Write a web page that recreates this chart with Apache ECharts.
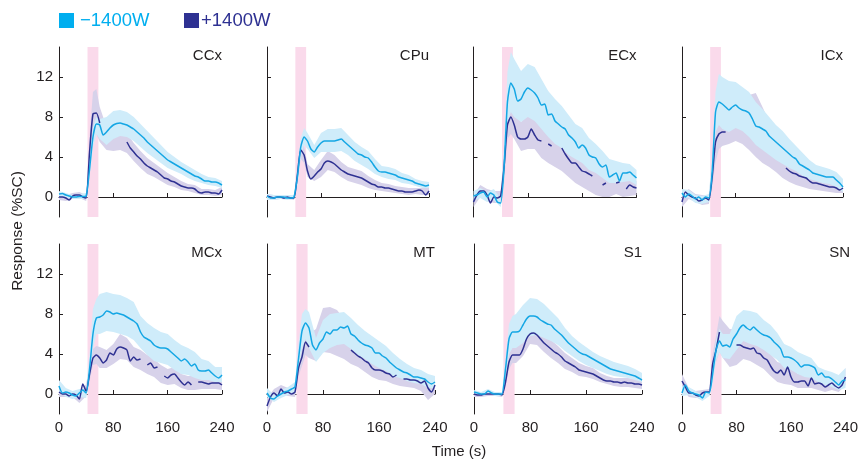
<!DOCTYPE html>
<html>
<head>
<meta charset="utf-8">
<script src="https://cdn.jsdelivr.net/npm/echarts@6/dist/echarts.min.js"></script>
<style>
html,body{margin:0;padding:0;background:#fff;}
#chart{width:861px;height:465px;}
</style>
</head>
<body>
<div id="chart"></div>
<script>
// ---------------- DATA ----------------
const panelNames = ['CCx','CPu','ECx','ICx','MCx','MT','S1','SN'];
const seriesNames = ['\u22121400W', '+1400W'];
const xTicks = [0, 80, 160, 240];
const yTicks = [0, 4, 8, 12];
const stimulus = [42, 58];
const lineT = [0,5,10,15,20,25,30,35,40,45,50,55,60,65,70,75,80,85,90,95,100,105,110,115,120,125,130,135,140,145,150,155,160,165,170,175,180,185,190,195,200,205,210,215,220,225,230,235,240];
const bandT = [0,10,20,30,40,45,50,55,60,70,80,90,100,110,120,130,140,150,160,170,180,190,200,210,220,230,240];

// CCx
const ccxLight = [0.3,0.35,0.2,0.1,0.0,0.0,0.05,0.05,0.1, 2.8,6.0,7.3,7.2,6.2,6.5,6.9,7.2,7.35,7.4, 7.3,7.2,7.0,6.8,6.5,6.2,5.9,5.5,5.2,4.9, 4.6,4.3,4.0,3.7,3.5,3.3,3.1,2.9,2.7,2.5, 2.3,2.1,2.0,1.8,1.6,1.6,1.5,1.5,1.4,1.2];
const ccxLightLo = [0.0,-0.1,-0.2,-0.2,-0.2, 2.0,5.0,6.3,5.8, 5.2,5.8,6.1,6.0,5.6,5.0,4.4,3.9,3.4,2.9,2.6,2.3,1.9,1.6,1.4,1.2,1.1,0.9];
const ccxLightHi = [0.6,0.4,0.2,0.3,0.4, 4.0,7.0,8.0,7.8, 8.0,8.6,8.7,8.5,8.0,7.3,6.6,5.9,5.2,4.5,4.0,3.5,3.1,2.7,2.3,2.0,1.9,1.6];
const ccxDark = [0.0,0.0,-0.1,-0.3,0.1,0.2,0.2,0.0,-0.1, 4.5,8.3,8.4,7.4,null,null,null,null,null,null, null,5.5,4.9,4.5,4.1,3.8,3.4,3.1,2.9,2.7, 2.5,2.2,1.9,1.8,1.6,1.5,1.3,1.1,1.0,0.9, 0.9,0.8,0.5,0.4,0.5,0.5,0.4,0.4,0.3,0.7];
const ccxDarkLo = [-0.3,-0.4,-0.2,-0.1,-0.4, 3.0,6.3,6.3,5.5, 4.7,4.6,4.7,4.4,3.6,2.9,2.3,2.0,1.6,1.2,1.0,0.7,0.6,0.4,0.2,0.2,0.1,0.2];
const ccxDarkHi = [0.3,0.2,0.4,0.5,0.2, 6.0,10.5,10.8,9.0, 7.0,7.2,7.2,6.4,5.4,4.6,3.9,3.4,2.9,2.4,2.0,1.6,1.3,1.2,0.8,0.8,0.7,1.0];

// CPu
const cpuLight = [0.1,-0.1,-0.1,0.0,0.0,0.0,-0.1,-0.1,0.0, 2.0,5.0,6.0,5.6,4.8,4.5,5.0,5.4,5.6,5.6, 5.6,5.6,5.7,5.8,5.5,5.2,4.9,4.6,4.3,4.2, 4.0,3.9,3.5,3.0,2.6,2.5,2.5,2.4,2.3,2.2, 2.0,1.9,1.8,1.7,1.6,1.4,1.3,1.2,1.1,1.2];
const cpuLightLo = [-0.3,-0.3,-0.2,-0.3,-0.2, 1.2,4.0,5.2,4.8, 3.9,4.5,4.5,4.5,4.6,4.2,3.6,3.2,2.8,2.3,2.0,1.8,1.7,1.4,1.3,1.1,0.9,0.9];
const cpuLightHi = [0.3,0.2,0.2,0.2,0.2, 3.0,5.9,6.9,6.4, 5.2,6.4,6.8,6.8,6.9,6.2,5.5,5.0,4.6,3.8,3.1,3.0,2.8,2.4,2.2,1.8,1.6,1.5];
const cpuDark = [0.1,0.0,-0.1,0.0,0.0,-0.1,0.0,-0.1,-0.1, 2.2,4.7,4.2,2.6,1.8,2.1,2.5,2.8,3.4,3.6, 3.5,3.3,3.0,2.7,2.5,2.3,2.2,2.1,2.0,1.9, 1.7,1.5,1.3,1.2,1.0,1.0,0.9,0.9,0.8,0.7, 0.6,0.6,0.5,0.5,0.5,0.6,0.7,0.6,0.2,0.6];
const cpuDarkLo = [-0.2,-0.3,-0.2,-0.2,-0.3, 1.5,3.8,3.4,2.0, 1.6,2.0,2.7,2.5,2.0,1.6,1.4,1.2,0.9,0.7,0.6,0.5,0.4,0.3,0.2,0.3,0.2,0.2];
const cpuDarkHi = [0.3,0.2,0.2,0.2,0.1, 3.0,5.5,5.0,3.3, 2.7,3.7,4.6,4.2,3.5,3.0,2.8,2.6,2.1,1.7,1.4,1.3,1.1,1.0,0.9,0.9,0.9,0.9];

// ECx
const ecxLight = [0.1,0.2,0.4,0.5,0.0,0.4,0.2,-0.5,-0.6, 3.0,9.5,11.4,10.8,9.6,9.8,10.5,10.9,10.7,10.4, 9.9,9.2,9.3,8.2,8.3,7.6,7.3,7.0,6.8,6.2, 5.9,5.5,4.9,5.2,4.9,4.2,4.0,3.9,3.3,3.0, 3.2,2.0,2.2,2.4,1.6,2.4,2.4,2.5,2.2,1.9];
const ecxLightLo = [-0.4,-0.1,-0.5,-0.3,-1.0, 1.5,7.5,8.5,8.0, 7.5,8.0,7.6,6.8,6.0,5.3,4.9,4.2,3.8,3.4,2.7,2.4,1.9,1.4,1.4,1.5,1.6,1.2];
const ecxLightHi = [0.6,0.9,0.5,0.8,-0.2, 5.0,12.5,14.5,13.8, 12.6,13.3,13.0,11.8,10.6,9.8,9.1,8.2,7.3,6.9,5.9,5.3,4.6,3.8,3.6,3.4,3.3,2.7];
const ecxDark = [-0.5,0.2,0.6,0.6,0.2,-0.6,0.0,-0.1,0.1, 3.0,7.2,8.0,7.2,6.0,5.8,5.8,6.0,6.8,6.2, 5.7,5.6,null,5.3,5.1,null,null,4.9,4.3,3.8, 3.4,3.4,3.0,2.6,2.5,2.3,2.1,null,null,1.2, 1.4,null,null,1.4,1.5,null,0.8,1.2,1.0,0.9];
const ecxDarkLo = [-1.0,0.0,-0.4,-0.6,-0.6, 1.5,5.8,6.3,5.8, 4.6,4.8,4.8,3.9,3.4,3.0,2.6,2.0,1.4,1.0,0.6,0.2,0.0,0.0,0.3,0.0,0.1,0.2];
const ecxDarkHi = [0.1,1.2,0.8,0.6,0.6, 4.5,8.5,9.5,8.8, 7.5,8.3,7.9,7.2,6.9,6.4,6.0,5.2,4.6,4.0,3.5,3.1,2.6,2.5,2.4,2.0,2.0,1.6];

// ICx
const icxLight = [0.4,0.0,0.3,0.1,-0.2,0.0,-0.3,0.0,-0.1, 2.5,8.5,9.5,9.3,9.0,8.7,9.0,9.2,8.9,8.7, 8.6,8.4,7.8,7.1,7.0,6.8,6.6,6.1,5.8,5.5, 5.2,4.9,4.6,4.3,4.0,3.8,3.3,3.1,2.9,2.7, 2.4,2.3,2.2,2.1,2.0,2.0,2.0,1.7,1.4,1.0];
const icxLightLo = [0.0,-0.1,-0.6,-0.7,-0.5, 1.0,6.5,7.2,6.8, 6.5,6.9,6.6,6.0,5.2,4.7,4.2,3.7,3.3,2.9,2.6,2.1,1.8,1.6,1.4,1.3,1.0,0.5];
const icxLightHi = [0.8,0.7,0.2,0.1,0.3, 4.0,10.5,12.3,12.0, 11.6,11.5,11.0,10.5,9.5,8.8,8.0,7.2,6.6,5.8,5.1,4.4,3.7,3.2,3.0,2.8,2.5,1.8];
const icxDark = [-0.5,0.5,0.2,0.0,-0.1,-0.4,-0.3,-0.1,-0.3, 2.0,5.5,6.3,6.5,6.5,null,null,null,null,null, null,null,null,null,null,null,null,null,null,null, null,null,2.9,2.6,2.4,2.3,2.1,2.0,1.9,1.6, 1.4,1.4,1.3,1.2,1.1,1.0,1.0,0.9,0.7,0.9];
const icxDarkLo = [-1.0,-0.2,-0.5,-0.8,-0.7, 1.0,3.5,4.8,5.1, 5.3,5.6,5.3,4.7,4.0,3.4,3.0,2.5,1.9,1.5,1.2,1.0,0.8,0.7,0.6,0.5,0.4,0.4];
const icxDarkHi = [0.2,0.8,0.3,0.2,0.1, 3.5,7.5,8.5,8.5, 8.8,9.4,9.8,10.2,10.4,9.0,7.5,6.3,5.0,4.0,3.4,3.0,2.5,2.1,1.9,1.6,1.4,1.4];

// MCx
const mcxLight = [0.8,0.1,0.2,0.1,-0.1,-0.2,0.1,0.4,0.1, 2.5,6.0,7.6,7.7,7.9,8.3,8.2,8.0,8.1,8.0, 7.9,7.7,7.5,7.3,7.0,6.2,5.7,5.5,5.3,4.9, 4.7,4.6,4.6,4.5,4.2,3.9,3.6,3.3,3.5,3.2, 2.8,3.0,2.4,2.3,2.3,2.4,2.1,1.8,1.6,1.9];
const mcxLightLo = [0.2,-0.3,-0.5,-0.3,-0.4, 1.5,4.5,6.0,6.0, 6.3,6.2,6.0,5.8,5.4,4.6,3.9,3.3,3.1,2.9,2.4,2.0,1.9,1.6,1.4,1.4,1.2,1.2];
const mcxLightHi = [1.4,0.6,0.3,0.5,0.5, 4.0,8.5,9.5,10.0, 10.2,10.0,9.9,9.6,9.2,7.8,7.1,6.6,6.2,6.0,5.4,4.9,4.6,4.2,3.5,3.3,2.7,2.7];
const mcxDark = [0.2,0.0,0.0,-0.2,0.0,-0.1,-0.5,1.0,0.3, 2.0,3.6,3.9,3.6,3.1,3.4,4.1,3.9,4.5,4.7, 4.6,4.4,3.3,3.7,3.4,3.5,null,2.9,3.1,2.6, 2.7,null,1.8,1.6,1.9,2.0,1.6,1.2,0.9,1.2, 0.9,null,1.2,1.2,1.1,1.0,1.1,1.1,1.1,0.9];
const mcxDarkLo = [-0.3,-0.3,-0.3,-0.9,-0.2, 1.3,2.9,3.0,2.6, 2.6,3.0,3.5,3.4,2.7,2.4,2.0,1.7,1.1,0.9,1.0,0.6,0.4,0.4,0.5,0.5,0.5,0.4];
const mcxDarkHi = [0.6,0.3,0.3,-0.1,1.0, 2.8,4.5,4.8,4.7, 4.4,5.0,6.0,5.6,4.7,4.4,3.9,3.5,2.9,2.5,2.7,2.0,1.8,1.8,1.7,1.6,1.6,1.5];

// MT
const mtLight = [0.1,-0.4,-0.5,-0.2,0.0,0.2,0.3,0.5,0.7, 3.5,6.3,7.1,6.6,4.9,4.4,5.1,5.5,6.2,6.0, 6.4,6.4,6.7,6.6,6.8,6.0,5.8,5.4,5.1,4.9, 4.8,4.6,4.1,4.1,3.8,3.6,3.2,2.9,2.6,2.4, 2.2,2.1,1.9,1.7,1.7,1.6,1.5,1.2,1.0,1.2];
const mtLightLo = [-0.3,-0.8,-0.4,-0.1,0.2, 2.5,4.5,5.5,4.6, 3.2,4.1,4.6,4.9,5.0,4.5,3.9,3.5,3.0,2.6,2.3,1.8,1.6,1.3,1.1,1.0,0.6,0.6];
const mtLightHi = [0.6,-0.1,0.4,0.7,1.2, 5.0,8.0,8.5,8.2, 5.6,7.4,8.0,8.1,8.2,7.6,6.9,6.3,5.8,5.3,4.8,4.1,3.5,3.0,2.6,2.4,2.0,1.8];
const mtDark = [-1.2,-0.3,0.1,-0.2,0.5,0.1,0.2,0.0,0.2, 2.6,3.7,5.2,4.7,null,null,null,null,null,null, null,null,null,null,null,4.4,4.1,3.8,3.6,3.3, 3.1,2.6,2.4,2.4,2.3,2.1,2.0,1.7,1.9,null, 1.5,1.5,1.4,1.4,1.3,1.1,1.3,0.6,0.2,0.9];
const mtDarkLo = [-1.8,-0.4,0.0,-0.2,-0.3, 1.8,2.8,3.9,3.6, 3.3,4.2,4.1,3.8,3.5,3.0,2.7,2.2,1.7,1.4,1.3,1.0,0.8,0.7,0.6,0.3,-0.6,0.0];
const mtDarkHi = [-0.4,0.5,0.9,0.6,0.6, 3.3,4.8,6.3,6.0, 6.5,8.6,8.7,8.4,7.5,6.0,5.0,4.3,3.6,3.2,2.9,2.5,2.3,2.2,2.1,1.8,1.6,1.8];

// S1
const s1Light = [0.2,0.1,0.0,0.0,0.3,0.1,0.0,0.0,0.0, 2.5,5.5,6.2,6.2,6.3,6.9,7.5,7.8,7.8,7.7, 7.4,7.2,7.0,6.9,6.5,6.2,5.9,5.5,5.1,4.8, 4.5,4.2,4.0,3.9,3.7,3.5,3.3,3.1,2.9,2.7, 2.5,2.4,2.3,2.2,2.1,2.0,1.9,1.8,1.6,1.4];
const s1LightLo = [0.0,-0.2,0.1,-0.2,-0.2, 1.5,4.0,4.6,4.6, 5.1,5.8,5.9,5.6,5.3,4.9,4.3,3.8,3.3,2.9,2.6,2.3,2.0,1.8,1.7,1.6,1.4,1.2];
const s1LightHi = [0.4,0.2,0.5,0.2,0.2, 3.5,7.0,7.8,8.0, 8.9,9.6,9.5,9.0,8.3,7.6,6.6,5.8,5.2,4.7,4.2,3.8,3.5,3.2,3.0,2.8,2.5,2.1];
const s1Dark = [0.0,-0.1,-0.1,0.0,0.0,0.0,0.0,0.0,-0.1, 1.2,3.2,3.9,3.9,3.9,4.5,5.5,6.0,6.1,5.9, 5.5,5.1,4.8,4.5,4.2,4.0,3.7,3.3,3.1,2.9, 2.7,2.4,2.3,2.2,2.1,2.0,1.8,1.6,1.4,1.3, 1.3,1.2,1.2,1.1,1.2,1.1,1.1,1.0,1.0,0.9];
const s1DarkLo = [-0.3,-0.3,-0.2,-0.2,-0.3, 0.7,2.5,3.1,3.1, 3.8,5.0,4.9,4.2,3.6,3.1,2.5,2.2,1.8,1.7,1.5,1.2,1.0,0.8,0.7,0.7,0.6,0.5];
const s1DarkHi = [0.2,0.1,0.2,0.2,0.1, 1.8,4.0,4.7,4.8, 5.4,7.1,7.0,6.0,5.4,4.8,4.1,3.6,3.1,2.8,2.6,2.1,1.8,1.6,1.6,1.6,1.5,1.3];

// SN
const snLight = [0.1,0.9,0.3,0.1,0.0,-0.1,-0.4,0.2,0.1, 2.0,4.4,5.3,4.8,4.9,4.7,5.5,6.0,6.6,6.9, 6.6,6.4,6.7,6.4,6.1,5.9,5.8,5.6,5.2,4.9, 4.5,3.7,3.7,3.6,3.4,3.1,2.7,2.9,2.9,2.8, 2.6,1.9,2.1,1.7,1.7,1.5,1.2,0.9,1.3,1.4];
const snLightLo = [-0.2,-0.1,-0.3,-0.7,-0.2, 1.0,3.4,4.2,3.6, 3.5,4.4,5.3,5.0,4.8,4.4,3.9,3.4,2.6,2.4,2.0,1.7,1.6,1.2,0.9,0.7,0.4,0.6];
const snLightHi = [0.8,0.7,0.3,-0.1,0.4, 3.0,5.4,6.5,6.0, 6.0,7.8,8.4,8.3,8.1,7.4,6.9,6.1,5.0,4.7,4.2,3.9,3.6,2.7,2.4,2.2,1.9,2.6];
const snDark = [1.3,0.7,0.1,0.1,-0.1,-0.2,0.1,0.2,0.2, 3.0,4.4,6.2,null,null,null,null,4.9,4.9,4.7, 4.6,4.5,4.6,4.1,4.0,3.6,3.4,2.8,2.3,2.1, 2.4,1.9,2.7,1.7,1.2,1.2,1.3,1.3,0.8,1.6, 1.0,1.1,1.0,0.7,0.9,1.1,0.8,0.6,0.9,1.7];
const snDarkLo = [0.6,-0.3,-0.4,-0.3,-0.2, 2.0,3.2,4.2,3.6, 2.7,2.9,3.5,3.3,2.9,2.5,1.8,1.2,1.0,0.9,0.6,0.6,0.6,0.4,0.2,0.4,0.2,0.9];
const snDarkHi = [2.0,0.6,0.3,0.4,0.5, 4.0,5.8,7.8,7.3, 6.5,6.5,6.0,5.9,5.3,4.8,4.0,3.2,3.0,2.8,2.0,2.0,2.1,1.7,1.4,1.6,1.2,2.6];

// ---------------- STYLE / LAYOUT ----------------
const FONT = '"Liberation Sans", Arial, Helvetica, sans-serif';
const TXT = '#231F20';
const LIGHT_LINE = '#14A6E4';
const DARK_LINE = '#2E3192';
const LIGHT_BAND = '#CFECFA';
const DARK_BAND = '#D7D2EA';
const STIM = '#FADAEB';
const LEG_LIGHT = '#00AEEF';
const LEG_DARK = '#2E3192';
const Y_MIN = -2, Y_MAX = 15;
const PH = 170;
const layout = [
  {l:59, t:47, w:163}, {l:267, t:47, w:162}, {l:473.5, t:47, w:163}, {l:682, t:47, w:161},
  {l:59, t:244, w:163}, {l:267, t:244, w:168}, {l:474, t:244, w:168}, {l:682, t:244, w:168}
];
const panelData = [
  [ccxLight, ccxLightLo, ccxLightHi, ccxDark, ccxDarkLo, ccxDarkHi],
  [cpuLight, cpuLightLo, cpuLightHi, cpuDark, cpuDarkLo, cpuDarkHi],
  [ecxLight, ecxLightLo, ecxLightHi, ecxDark, ecxDarkLo, ecxDarkHi],
  [icxLight, icxLightLo, icxLightHi, icxDark, icxDarkLo, icxDarkHi],
  [mcxLight, mcxLightLo, mcxLightHi, mcxDark, mcxDarkLo, mcxDarkHi],
  [mtLight, mtLightLo, mtLightHi, mtDark, mtDarkLo, mtDarkHi],
  [s1Light, s1LightLo, s1LightHi, s1Dark, s1DarkLo, s1DarkHi],
  [snLight, snLightLo, snLightHi, snDark, snDarkLo, snDarkHi]
];

function bandRenderer(lo, hi, color) {
  return function (params, api) {
    if (params.dataIndex !== 0) return null;
    const pts = [];
    for (let k = 0; k < bandT.length; k++) pts.push(api.coord([bandT[k], hi[k]]));
    for (let k = bandT.length - 1; k >= 0; k--) pts.push(api.coord([bandT[k], lo[k]]));
    return { type: 'polygon', shape: { points: pts }, style: { fill: color, stroke: null } };
  };
}
function stimRenderer(params, api) {
  const a = api.coord([stimulus[0], Y_MAX]);
  const b = api.coord([stimulus[1], Y_MIN]);
  return { type: 'rect', shape: { x: a[0], y: a[1], width: b[0] - a[0], height: b[1] - a[1] }, style: { fill: STIM } };
}
function lineData(v) { return lineT.map((t, k) => [t, v[k] === null ? '-' : v[k]]); }

const grid = [], xAxis = [], yAxis = [], series = [], title = [];
panelNames.forEach((name, i) => {
  const L = layout[i];
  const row2 = i >= 4, col1 = (i % 4) === 0;
  grid.push({ left: L.l, top: L.t, width: L.w, height: PH, containLabel: false });
  xAxis.push({
    type: 'value', gridIndex: i, min: xTicks[0], max: xTicks[xTicks.length - 1], interval: 80,
    axisLine: { show: true, lineStyle: { color: TXT, width: 1 } },
    axisTick: { show: true, inside: true, length: 4, lineStyle: { color: TXT } },
    axisLabel: { show: row2, color: TXT, fontSize: 15, fontFamily: FONT, margin: 6 },
    splitLine: { show: false }
  });
  yAxis.push({
    type: 'value', gridIndex: i, min: Y_MIN, max: Y_MAX,
    axisLine: { show: true, onZero: false, lineStyle: { color: TXT, width: 1 } },
    axisTick: { show: true, inside: true, length: 4, lineStyle: { color: TXT }, customValues: yTicks },
    axisLabel: { show: col1, color: TXT, fontSize: 15, fontFamily: FONT, margin: 6, customValues: yTicks },
    splitLine: { show: false }
  });
  title.push({
    text: name, right: 861 - (L.l + L.w), top: L.t + 1, padding: 0,
    textStyle: { color: TXT, fontSize: 15, fontWeight: 'normal', fontFamily: FONT }
  });
  const [lm, llo, lhi, dm, dlo, dhi] = panelData[i];
  const bandSrc = (lo, hi) => bandT.map((t, k) => [t, lo[k], hi[k]]);
  series.push({ type: 'custom', xAxisIndex: i, yAxisIndex: i, silent: true, z: 1,
    data: [[stimulus[0], stimulus[1]]], encode: { x: [0, 1] }, renderItem: stimRenderer });
  series.push({ type: 'custom', xAxisIndex: i, yAxisIndex: i, silent: true, z: 2,
    data: bandSrc(dlo, dhi), encode: { x: 0, y: [1, 2] }, renderItem: bandRenderer(dlo, dhi, DARK_BAND) });
  series.push({ type: 'custom', xAxisIndex: i, yAxisIndex: i, silent: true, z: 3,
    data: bandSrc(llo, lhi), encode: { x: 0, y: [1, 2] }, renderItem: bandRenderer(llo, lhi, LIGHT_BAND) });
  series.push({ type: 'line', name: seriesNames[1], xAxisIndex: i, yAxisIndex: i, z: 4, silent: true,
    data: lineData(dm), showSymbol: false, symbol: 'none', smooth: 0.2, connectNulls: false,
    lineStyle: { color: DARK_LINE, width: 1.5 }, itemStyle: { color: DARK_LINE } });
  series.push({ type: 'line', name: seriesNames[0], xAxisIndex: i, yAxisIndex: i, z: 5, silent: true,
    data: lineData(lm), showSymbol: false, symbol: 'none', smooth: 0.2, connectNulls: false,
    lineStyle: { color: LIGHT_LINE, width: 1.5 }, itemStyle: { color: LIGHT_LINE } });
});

const graphic = [
  { type: 'rect', shape: { x: 59, y: 13, width: 15, height: 15 }, style: { fill: LEG_LIGHT } },
  { type: 'text', x: 80, y: 20.5, style: { text: seriesNames[0], fill: LEG_LIGHT, font: '18.5px ' + FONT, textVerticalAlign: 'middle', textAlign: 'left' } },
  { type: 'rect', shape: { x: 184, y: 13, width: 15, height: 15 }, style: { fill: LEG_DARK } },
  { type: 'text', x: 201, y: 20.5, style: { text: seriesNames[1], fill: LEG_DARK, font: '18.5px ' + FONT, textVerticalAlign: 'middle', textAlign: 'left' } },
  { type: 'text', x: 18, y: 231, rotation: Math.PI / 2, style: { text: 'Response (%SC)', fill: TXT, font: '15.5px ' + FONT, textAlign: 'center', textVerticalAlign: 'middle' } },
  { type: 'text', x: 459, y: 452, style: { text: 'Time (s)', fill: TXT, font: '15px ' + FONT, textAlign: 'center', textVerticalAlign: 'middle' } }
];

const chart = echarts.init(document.getElementById('chart'), null, { renderer: 'canvas' });
chart.setOption({
  animation: false,
  backgroundColor: '#ffffff',
  textStyle: { fontFamily: FONT },
  title, grid, xAxis, yAxis, series, graphic
});
</script>
</body>
</html>
